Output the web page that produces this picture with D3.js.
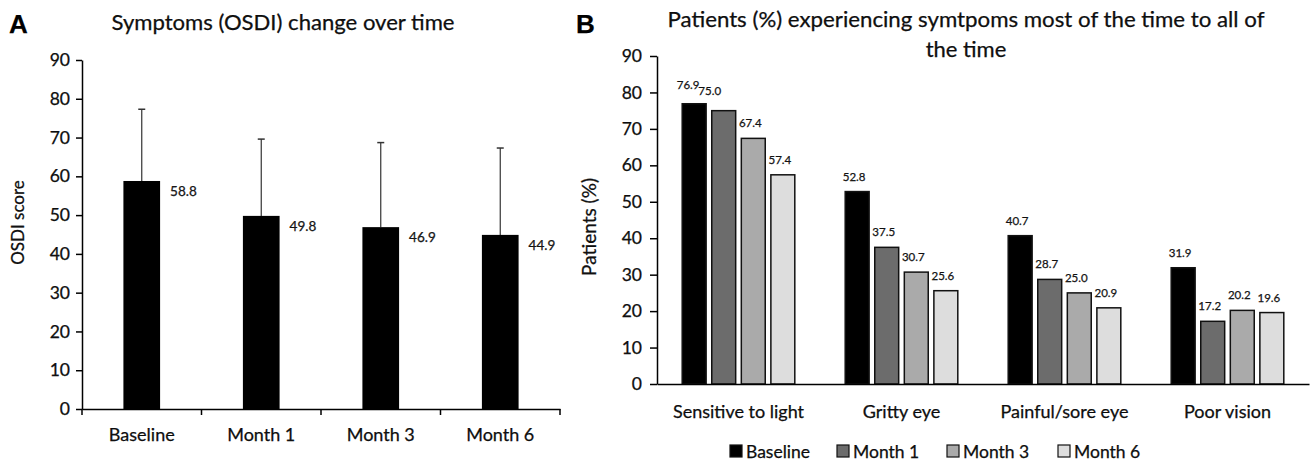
<!DOCTYPE html>
<html>
<head>
<meta charset="utf-8">
<script src="https://cdn.jsdelivr.net/npm/d3@7"></script>
<style>
  html, body { margin: 0; padding: 0; background: #fff; }
  svg { display: block; font-family: Lato, "Open Sans", sans-serif; }
  svg text { stroke: #000; stroke-width: 0.25px; }
</style>
</head>
<body>
<svg id="chart" width="1310" height="464"></svg>
<script>
// ---------- Data ----------
const timepoints = ["Baseline", "Month 1", "Month 3", "Month 6"];
const osdiMean = [58.8, 49.8, 46.9, 44.9];
const osdiSD = [18.5, 19.8, 21.8, 22.4];
const osdiTicks = [0, 10, 20, 30, 40, 50, 60, 70, 80, 90];

const symptoms = ["Sensitive to light", "Gritty eye", "Painful/sore eye", "Poor vision"];
const baseline = [76.9, 52.8, 40.7, 31.9];
const month1 = [75.0, 37.5, 28.7, 17.2];
const month3 = [67.4, 30.7, 25.0, 20.2];
const month6 = [57.4, 25.6, 20.9, 19.6];
const pctTicks = [0, 10, 20, 30, 40, 50, 60, 70, 80, 90];

const titleA = "Symptoms (OSDI) change over time";
const titleB1 = "Patients (%) experiencing symtpoms most of the time to all of";
const titleB2 = "the time";

const svg = d3.select("#chart");

// ---------- Panel A ----------
{
  const left = 82, right = 560, top = 60, bottom = 409;
  const x = d3.scaleBand().domain(timepoints).range([left, right]).padding(0);
  const y = d3.scaleLinear().domain([0, 90]).range([bottom, top]);
  const g = svg.append("g");
  const bw = x.bandwidth() * 0.307;

  svg.append("text").attr("x", 9).attr("y", 33).text("A")
    .attr("font-family", "Liberation Sans, Arial, sans-serif")
    .attr("font-weight", "bold").attr("font-size", 26);
  svg.append("text").attr("x", 283).attr("y", 30).attr("text-anchor", "middle")
    .attr("font-size", 22).attr("fill", "#111")
    .attr("textLength", 343).attr("lengthAdjust", "spacingAndGlyphs").text(titleA);

  // error bars
  timepoints.forEach((t, i) => {
    const cx = x(t) + x.bandwidth() / 2;
    g.append("line").attr("x1", cx).attr("x2", cx)
      .attr("y1", y(osdiMean[i])).attr("y2", y(osdiMean[i] + osdiSD[i]))
      .attr("stroke", "#333").attr("stroke-width", 1.2);
    g.append("line").attr("x1", cx - 3.5).attr("x2", cx + 3.5)
      .attr("y1", y(osdiMean[i] + osdiSD[i])).attr("y2", y(osdiMean[i] + osdiSD[i]))
      .attr("stroke", "#333").attr("stroke-width", 1.5);
  });

  g.selectAll("rect.bar").data(timepoints).join("rect")
    .attr("x", (d) => x(d) + x.bandwidth() / 2 - bw / 2)
    .attr("width", bw)
    .attr("y", (d, i) => y(osdiMean[i]))
    .attr("height", (d, i) => y(0) - y(osdiMean[i]))
    .attr("fill", "#000");

  g.selectAll("text.val").data(timepoints).join("text")
    .attr("x", (d) => x(d) + x.bandwidth() / 2 + bw / 2 + 10)
    .attr("y", (d, i) => y(osdiMean[i]) + 15)
    .attr("font-size", 13.5).attr("fill", "#222")
    .text((d, i) => osdiMean[i].toFixed(1));

  // y axis
  const ya = g.append("g").attr("transform", `translate(${left},0)`)
    .call(d3.axisLeft(y).tickValues(osdiTicks).tickSize(6).tickSizeOuter(0).tickPadding(6));
  ya.select(".domain").attr("stroke", "#000").attr("stroke-width", 1.5);
  ya.selectAll(".tick line").attr("stroke", "#000").attr("stroke-width", 1.5);
  ya.selectAll(".tick text").attr("font-size", 17.5).attr("font-family", "Lato").attr("fill", "#111");

  // x axis
  const xa = g.append("g").attr("transform", `translate(0,${bottom})`)
    .call(d3.axisBottom(x).tickSize(0).tickPadding(19));
  xa.select(".domain").attr("stroke", "#000").attr("stroke-width", 1.5);
  xa.selectAll(".tick text").attr("font-size", 18).attr("font-family", "Lato").attr("fill", "#111");
  // boundary ticks
  const bounds = timepoints.map((t) => x(t)).concat([right]);
  g.selectAll("line.btick").data(bounds).join("line")
    .attr("x1", (d) => d).attr("x2", (d) => d)
    .attr("y1", bottom).attr("y2", bottom + 6)
    .attr("stroke", "#000").attr("stroke-width", 1.5);

  svg.append("text")
    .attr("transform", `translate(24,${(top + bottom) / 2 - 12}) rotate(-90)`)
    .attr("text-anchor", "middle").attr("font-size", 17).attr("fill", "#111")
    .text("OSDI score");
}

// ---------- Panel B ----------
{
  const left = 657, right = 1309, top = 56, bottom = 384;
  const seriesNames = ["Baseline", "Month 1", "Month 3", "Month 6"];
  const seriesVals = [baseline, month1, month3, month6];
  const fills = ["#000000", "#6c6c6c", "#aaaaaa", "#dddddd"];
  const x0 = d3.scaleBand().domain(symptoms).range([left, right]).paddingInner(0.3).paddingOuter(0.15);
  const x1 = d3.scaleBand().domain(seriesNames).range([0, x0.bandwidth()]).paddingInner(0.14);
  const y = d3.scaleLinear().domain([0, 90]).range([bottom, top]);
  const g = svg.append("g");

  svg.append("text").attr("x", 576).attr("y", 33).text("B")
    .attr("font-family", "Liberation Sans, Arial, sans-serif")
    .attr("font-weight", "bold").attr("font-size", 26);
  svg.append("text").attr("x", 966).attr("y", 27).attr("text-anchor", "middle")
    .attr("font-size", 22).attr("fill", "#111")
    .attr("textLength", 597).attr("lengthAdjust", "spacingAndGlyphs").text(titleB1);
  svg.append("text").attr("x", 966).attr("y", 57).attr("text-anchor", "middle")
    .attr("font-size", 22).attr("fill", "#111").text(titleB2);

  // y axis
  const ya = g.append("g").attr("transform", `translate(${left},0)`)
    .call(d3.axisLeft(y).tickValues(pctTicks).tickSize(7).tickSizeOuter(0).tickPadding(8));
  ya.select(".domain").attr("stroke", "#000").attr("stroke-width", 1.5);
  ya.selectAll(".tick line").attr("stroke", "#000").attr("stroke-width", 1.5);
  ya.selectAll(".tick text").attr("font-size", 17.5).attr("font-family", "Lato").attr("fill", "#111");

  const rows = [];
  symptoms.forEach((s, i) => seriesNames.forEach((n, j) => rows.push({ s, n, i, j, v: seriesVals[j][i] })));

  g.selectAll("rect.bar").data(rows).join("rect")
    .attr("x", (d) => x0(d.s) + x1(d.n) + 0.75)
    .attr("width", x1.bandwidth() - 1.5)
    .attr("y", (d) => y(d.v))
    .attr("height", (d) => y(0) - y(d.v))
    .attr("fill", (d) => fills[d.j])
    .attr("stroke", "#111").attr("stroke-width", 1.5);

  // label nudges for the crowded first group
  const dxFirst = [-6, -14, -3, -3];
  const dyFirst = [-4, -5, 0, 0];
  g.selectAll("text.val").data(rows).join("text")
    .attr("x", (d) => x0(d.s) + x1(d.n) + x1.bandwidth() / 2 + (d.i === 0 ? dxFirst[d.j] : -3))
    .attr("y", (d) => y(d.v) - 11 + (d.i === 0 ? dyFirst[d.j] : 0))
    .attr("text-anchor", "middle").attr("font-size", 11.5).attr("fill", "#222")
    .text((d) => d.v.toFixed(1));

  // x axis
  const xa = g.append("g").attr("transform", `translate(0,${bottom})`)
    .call(d3.axisBottom(x0).tickSize(0).tickPadding(21));
  xa.select(".domain").attr("stroke", "#000").attr("stroke-width", 1.5);
  xa.selectAll(".tick text").attr("font-size", 18).attr("font-family", "Lato").attr("fill", "#111");

  svg.append("text")
    .attr("transform", `translate(596,${(top + bottom) / 2 + 7}) rotate(-90)`)
    .attr("text-anchor", "middle").attr("font-size", 19).attr("fill", "#111")
    .text("Patients (%)");

  // legend
  const legX = [730, 837, 947, 1058];
  const leg = svg.append("g");
  seriesNames.forEach((n, j) => {
    leg.append("rect").attr("x", legX[j]).attr("y", 445).attr("width", 12).attr("height", 12)
      .attr("fill", fills[j]).attr("stroke", "#111").attr("stroke-width", 1.2);
    leg.append("text").attr("x", legX[j] + 16).attr("y", 457.5)
      .attr("font-size", 17.5).attr("fill", "#111").text(n);
  });
}
</script>
</body>
</html>
